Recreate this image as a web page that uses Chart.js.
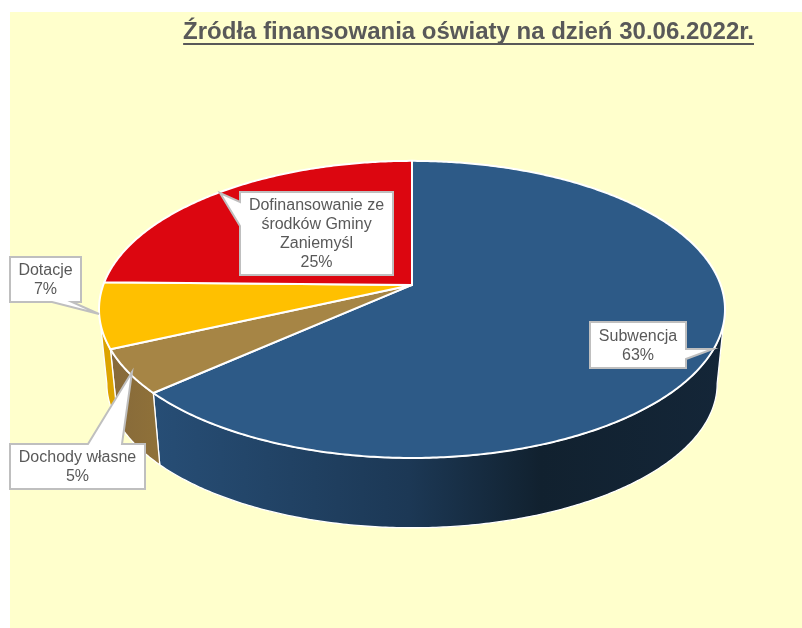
<!DOCTYPE html>
<html lang="pl">
<head>
<meta charset="utf-8">
<title>Źródła finansowania oświaty</title>
<style>html,body{margin:0;padding:0;background:#fff}canvas{display:block}</style>
<script src="https://cdn.jsdelivr.net/npm/chart.js@4/dist/chart.umd.min.js"></script>
</head>
<body>
<canvas id="c" width="802" height="628"></canvas>
<script>
const TITLE = 'Źródła finansowania oświaty na dzień 30.06.2022r.';
const categories = ['Subwencja', 'Dochody własne', 'Dotacje', 'Dofinansowanie ze środków Gminy Zaniemyśl'];
const labelLines = [['Subwencja'], ['Dochody własne'], ['Dotacje'], ['Dofinansowanie ze', 'środków Gminy', 'Zaniemyśl']];
const values = [63.4, 4.8, 7.1, 24.7];
const topColors = ['#2D5A87', '#A68545', '#FFC000', '#DC0610'];
const wallColors = [null, '#8A6D3A', '#DCA400', '#B80510'];

// Callout geometry: box [x, y, w, h] and pointer polygon inserted in the outline.
const callouts = [
  {box:[590,322,96,46], side:'right',  ptr:[[686,349],[713,349],[686,359]]},
  {box:[10,444,135,45], side:'top',    ptr:[[88,444],[132,372],[122,444]]},
  {box:[10,257,71,45],  side:'bottom', ptr:[[72,302],[99,314],[52,302]]},
  {box:[240,192,153,83],side:'left',   ptr:[[240,226],[220,193],[240,202]]}
];

// Perspective model of the pie disc
const K = 0.165, A_PX = 308.7, B_PX = 144.5;
const BOTTOM = {sx:0.975, sy:0.97, dy:75};

function pt(arc, theta, level) {
  // theta measured clockwise from 12 o'clock
  const u = Math.sin(theta), v = -Math.cos(theta), w = 1 - K * v;
  const s = level ? BOTTOM : {sx:1, sy:1, dy:0};
  return [arc.x + A_PX * s.sx * u / w, arc.y + s.dy + B_PX * s.sy * v / w];
}
function rimTo(ctx, arc, t0, t1, level) {
  const n = Math.max(2, Math.ceil(Math.abs(t1 - t0) / 0.01));
  for (let i = 0; i <= n; i++) {
    const p = pt(arc, t0 + (t1 - t0) * i / n, level);
    ctx.lineTo(p[0], p[1]);
  }
}

const pie3d = {
  id: 'pie3d',
  beforeDraw(chart) {
    const ctx = chart.ctx;
    ctx.save();
    ctx.fillStyle = '#FFFFFF';
    ctx.fillRect(0, 0, chart.width, chart.height);
    ctx.fillStyle = '#FFFFCC';
    ctx.fillRect(10, 12, chart.width - 10, chart.height - 12);
    ctx.restore();
  },
  beforeDatasetDraw(chart) {
    const ctx = chart.ctx, arcs = chart.getDatasetMeta(0).data;
    const left = Math.PI * 2 - Math.acos(-K), right = Math.acos(-K);
    ctx.save();
    ctx.lineJoin = 'round';
    // walls, far sides first
    arcs.forEach((arc, i) => {
      const a0 = arc.startAngle + Math.PI / 2, a1 = arc.endAngle + Math.PI / 2;
      const t0 = Math.max(a0, right), t1 = Math.min(a1, left);
      if (t1 <= t0) return;
      let fill = wallColors[i];
      if (!fill) {
        fill = ctx.createLinearGradient(150, 0, 725, 0);
        fill.addColorStop(0, '#274E76');
        fill.addColorStop(0.45, '#1C3855');
        fill.addColorStop(0.68, '#11212F');
        fill.addColorStop(1, '#142638');
      } else if (i === 1) {
        fill = ctx.createLinearGradient(110, 0, 158, 0);
        fill.addColorStop(0, '#86693A');
        fill.addColorStop(1, '#8F7139');
      }
      ctx.beginPath();
      const s = pt(arc, t0, 0);
      ctx.moveTo(s[0], s[1]);
      rimTo(ctx, arc, t0, t1, 0);
      rimTo(ctx, arc, t1, t0, 1);
      ctx.closePath();
      ctx.fillStyle = fill;
      ctx.fill();
      ctx.strokeStyle = '#FFFFFF';
      ctx.lineWidth = 1.3;
      ctx.stroke();
    });
    // top face
    arcs.forEach((arc, i) => {
      const a0 = arc.startAngle + Math.PI / 2, a1 = arc.endAngle + Math.PI / 2;
      ctx.beginPath();
      ctx.moveTo(arc.x, arc.y);
      rimTo(ctx, arc, a0, a1, 0);
      ctx.closePath();
      ctx.fillStyle = topColors[i];
      ctx.fill();
      ctx.strokeStyle = '#FFFFFF';
      ctx.lineWidth = 2;
      ctx.stroke();
    });
    ctx.restore();
    return false;
  },
  afterDraw(chart) {
    const ctx = chart.ctx, tb = chart.titleBlock;
    ctx.save();
    // title underline
    ctx.font = 'bold 24px "Liberation Sans", Arial, sans-serif';
    const tw = ctx.measureText(TITLE).width;
    ctx.strokeStyle = tb.options.color;
    ctx.lineWidth = 2;
    ctx.beginPath();
    ctx.moveTo(tb.right - tw, 44);
    ctx.lineTo(tb.right, 44);
    ctx.stroke();
    // callouts
    callouts.forEach((c, i) => {
      const [x, y, w, h] = c.box, r = x + w, b = y + h, p = c.ptr;
      const ptrPts = () => p.forEach(q => ctx.lineTo(q[0], q[1]));
      ctx.beginPath();
      ctx.moveTo(x, y);
      if (c.side === 'top') ptrPts();
      ctx.lineTo(r, y);
      if (c.side === 'right') ptrPts();
      ctx.lineTo(r, b);
      if (c.side === 'bottom') ptrPts();
      ctx.lineTo(x, b);
      if (c.side === 'left') ptrPts();
      ctx.closePath();
      ctx.fillStyle = '#FFFFFF';
      ctx.fill();
      ctx.strokeStyle = '#BFBFBF';
      ctx.lineWidth = 2;
      ctx.lineJoin = 'miter';
      ctx.stroke();
      const lines = labelLines[i].concat(Math.round(values[i]) + '%');
      ctx.fillStyle = '#595959';
      ctx.font = '16px "Liberation Sans", Arial, sans-serif';
      ctx.textAlign = 'center';
      ctx.textBaseline = 'middle';
      const lh = 19, cy = y + h / 2 + 1, cx = x + w / 2;
      lines.forEach((t, j) => ctx.fillText(t, cx, cy + (j - (lines.length - 1) / 2) * lh));
    });
    ctx.restore();
  }
};

new Chart(document.getElementById('c'), {
  type: 'pie',
  data: {labels: categories, datasets: [{data: values, backgroundColor: topColors, borderColor: '#FFFFFF', borderWidth: 2}]},
  options: {
    responsive: false,
    animation: false,
    layout: {padding: {left: 70, right: 48, top: 12, bottom: 111}},
    plugins: {
      legend: {display: false},
      tooltip: {enabled: false},
      title: {
        display: true, text: TITLE, align: 'end', color: '#595959',
        font: {family: '"Liberation Sans", Arial, sans-serif', size: 24, weight: 'bold'},
        padding: {top: 6, bottom: 6}
      }
    }
  },
  plugins: [pie3d]
});
</script>
</body>
</html>
